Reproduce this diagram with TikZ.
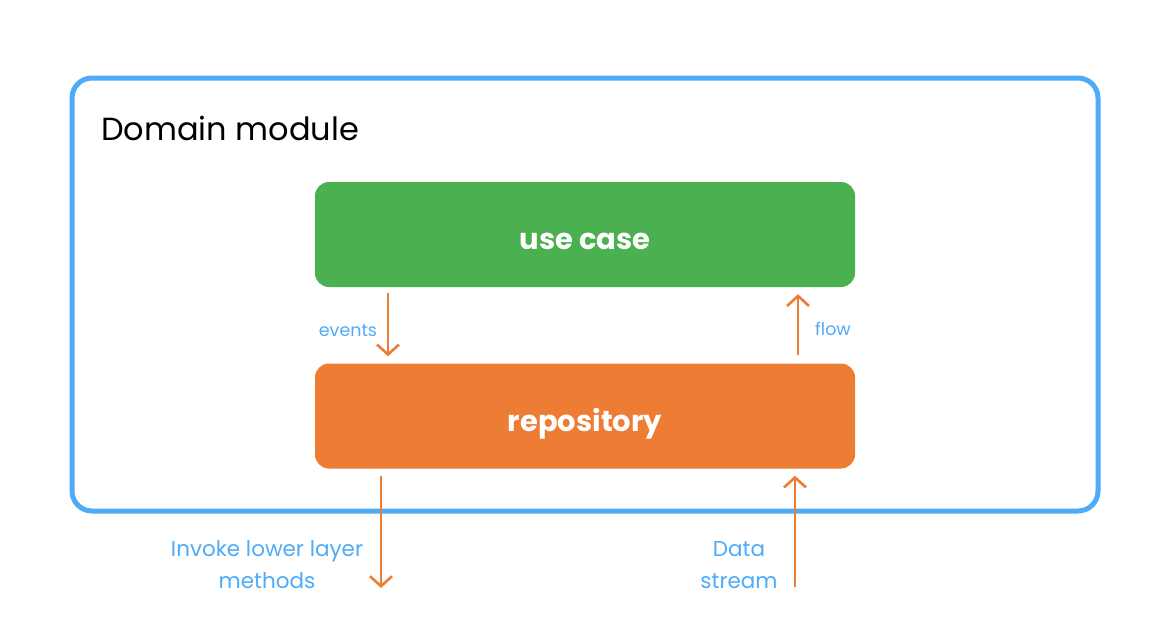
\documentclass[tikz,border=0pt]{standalone}
\usepackage{fontspec}
\setmainfont{Poppins}
\usetikzlibrary{arrows.meta,calc}
\definecolor{frameblue}{RGB}{77,171,247}
\definecolor{ucgreen}{RGB}{74,176,80}
\definecolor{repoorange}{RGB}{237,125,52}
\tikzset{
  block/.style={rectangle, rounded corners=14pt, minimum width=540pt, minimum height=105pt, inner sep=0pt, text height=30pt, text depth=0pt, text=white, font=\fontsize{29}{34}\selectfont\bfseries},
  arr/.style={draw=repoorange, line width=2.6pt, -{Straight Barb[length=10pt,width=22pt,line width=2.6pt]}},
  lbl/.style={text=frameblue, font=\fontsize{17.5}{20}\selectfont, inner sep=0pt},
  biglbl/.style={text=frameblue, font=\fontsize{21.5}{32}\selectfont, inner sep=0pt, align=center},
}
\begin{document}
\begin{tikzpicture}[x=1pt,y=-1pt]
\useasboundingbox (0,0) rectangle (1171,635);
\draw[frameblue, line width=5pt, rounded corners=20pt] (72,78) rectangle (1098,511);
\node[anchor=base west, inner sep=0pt, font=\fontsize{32}{36}\selectfont] (title) at (101,140) {Domain module};
\node[block, fill=ucgreen] (uc) at (585,234.5) {use case};
\node[block, fill=repoorange] (repo) at (585,416) {repository};
\coordinate (ex) at (388,0);
\coordinate (fx) at (798,0);
\coordinate (ix) at (381,0);
\coordinate (dx) at (795,0);
\coordinate (iend) at (381,588);
\coordinate (dstart) at (795,587);
\draw[arr, shorten <=6pt, shorten >=7pt] (uc.south -| ex) -- (repo.north -| ex);
\draw[arr, shorten <=8pt, shorten >=7pt] (repo.north -| fx) -- (uc.south -| fx);
\draw[arr, shorten <=7pt] (repo.south -| ix) -- (iend);
\draw[arr, shorten >=7pt] (dstart) -- (repo.south -| dx);
\node[lbl] (ev) at (348,331) {events};
\node[lbl] (fl) at (833,329) {flow};
\node[biglbl] (inv) at (267,565) {Invoke lower layer\\methods};
\node[biglbl] (ds) at (739,565) {Data\\stream};
\end{tikzpicture}
\end{document}
